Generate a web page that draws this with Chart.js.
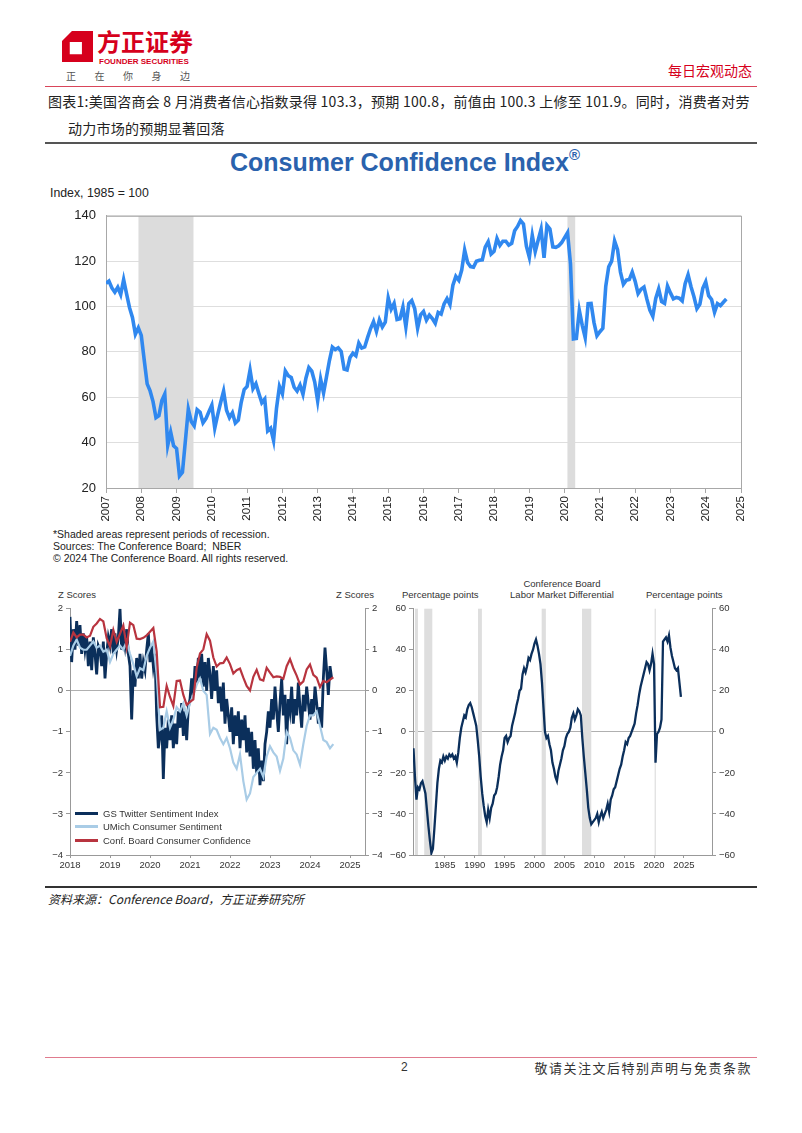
<!DOCTYPE html>
<html>
<head>
<meta charset="utf-8">
<script src="https://cdn.jsdelivr.net/npm/chart.js@4.4.1/dist/chart.umd.min.js"></script>
<style>
body{margin:0;width:802px;height:1133px;position:relative;background:#fff;overflow:hidden;font-family:"Liberation Sans",Arial,sans-serif;color:#222}
.a{position:absolute;white-space:nowrap}
.cjk{font-family:"Noto Sans CJK SC",sans-serif}
canvas{position:absolute}
.gs{font-size:9.5px;color:#333;line-height:11px}
.lg{position:absolute;left:75px;font-size:9.5px;color:#333;line-height:12px}
.lg span{display:inline-block;width:23px;height:3px;vertical-align:middle;margin-right:5px;margin-top:-2px}
</style>
</head>
<body>

<!-- header -->
<svg class="a" style="left:62px;top:31px" width="31" height="31" viewBox="0 0 28 28">
<path fill-rule="evenodd" fill="#d6001c" d="M9 0H28V28H0V9Z M7 10V21H18V10Z"/>
</svg>
<div class="a cjk" style="left:97px;top:25px;font-size:24px;line-height:32px;font-weight:bold;color:#d6001c">方正证券</div>
<div class="a" style="left:99px;top:57px;font-size:8px;line-height:9px;font-weight:bold;color:#d6001c">FOUNDER SECURITIES</div>
<div class="a cjk" style="left:66px;top:68px;font-size:10px;color:#555;letter-spacing:18.5px">正在你身边</div>
<div class="a cjk" style="right:50px;top:60px;font-size:14px;color:#d6001c">每日宏观动态</div>
<div class="a" style="left:45px;top:86px;width:712px;height:1px;background:#d9455a"></div>

<div class="a cjk" style="left:48px;top:91px;font-size:14px;letter-spacing:0.25px;line-height:20px;color:#222">图表1:美国咨商会 8 月消费者信心指数录得 103.3，预期 100.8，前值由 100.3 上修至 101.9。同时，消费者对劳</div>
<div class="a cjk" style="left:68px;top:118px;font-size:14px;letter-spacing:0.25px;line-height:20px;color:#222">动力市场的预期显著回落</div>
<div class="a" style="left:45px;top:142px;width:712px;height:2px;background:#555"></div>

<!-- top chart -->
<div class="a" style="left:4px;width:802px;top:146px;text-align:center;font-size:25px;font-weight:bold;color:#2a62ad">Consumer Confidence Index<sup style="font-size:15px;vertical-align:11px">®</sup></div>
<div class="a" style="left:50px;top:186px;font-size:12.3px">Index, 1985 = 100</div>
<canvas id="cciChart" width="720" height="330" style="left:40px;top:198px"></canvas>
<div class="a" style="left:53px;top:528px;font-size:10.5px;line-height:12px">*Shaded areas represent periods of recession.<br>Sources: The Conference Board;&nbsp; NBER<br>© 2024 The Conference Board. All rights reserved.</div>

<!-- bottom left -->
<div class="a gs" style="left:58px;top:589px">Z Scores</div>
<div class="a gs" style="left:336px;top:589px">Z Scores</div>
<canvas id="zChart" width="342" height="275" style="left:40px;top:600px"></canvas>
<div class="lg" style="top:808px"><span style="background:#0b2f5b"></span>GS Twitter Sentiment Index</div>
<div class="lg" style="top:821px"><span style="background:#a9cce6"></span>UMich Consumer Sentiment</div>
<div class="lg" style="top:835px"><span style="background:#b8343f"></span>Conf. Board Consumer Confidence</div>

<!-- bottom right -->
<div class="a gs" style="left:402px;top:589px">Percentage points</div>
<div class="a gs" style="left:500px;width:124px;top:578px;text-align:center">Conference Board<br>Labor Market Differential</div>
<div class="a gs" style="left:646px;top:589px">Percentage points</div>
<canvas id="ldChart" width="368" height="275" style="left:382px;top:600px"></canvas>

<!-- source + footer -->
<div class="a" style="left:45px;top:886px;width:712px;height:1.5px;background:#333"></div>
<div class="a cjk" style="left:48px;top:890px;font-size:12px;font-style:italic;color:#222">资料来源：Conference Board，方正证券研究所</div>
<div class="a" style="left:45px;top:1057px;width:712px;height:1px;background:#e07b8e"></div>
<div class="a" style="left:401px;top:1060px;font-size:12px;color:#333">2</div>
<div class="a cjk" style="right:50px;top:1058px;font-size:13px;color:#333;letter-spacing:1.5px">敬请关注文后特别声明与免责条款</div>

<script>
// ========================================
// Data
// ========================================

// Consumer Confidence Index, monthly from Jan 2007
const cciStart = 2007;
const cciValues = [
110.2,111.2,108.2,106.3,108.5,105.3,111.9,105.6,99.5,95.2,87.8,90.6,
87.3,76.4,65.9,62.8,58.1,51.0,51.9,58.5,61.4,38.8,44.7,38.6,
37.4,25.3,26.9,40.8,54.8,49.3,47.4,54.5,53.4,48.7,50.6,53.6,
56.5,46.4,52.3,57.7,62.7,54.3,51.0,53.2,48.6,49.9,57.8,63.4,
64.8,72.0,63.8,66.0,61.7,57.6,59.2,45.2,46.4,40.9,55.2,64.8,
61.5,71.6,69.5,68.7,64.4,62.7,65.4,61.3,68.4,73.1,71.5,66.7,
58.4,68.0,61.9,69.0,76.2,82.1,81.0,81.8,80.2,72.4,72.0,77.5,
79.4,78.3,83.9,81.7,82.2,86.4,90.3,93.4,89.0,94.1,91.0,93.1,
103.8,98.8,101.4,94.3,94.6,99.8,91.0,101.3,102.6,99.1,90.4,96.3,
97.8,94.0,96.2,94.7,92.6,97.4,96.7,101.1,103.5,100.8,109.4,113.3,
111.6,116.1,124.9,119.4,117.6,117.3,120.0,120.4,120.6,126.2,128.6,123.1,
124.3,130.0,127.0,128.8,128.8,127.1,127.9,133.4,135.3,137.9,136.4,126.6,
121.7,131.4,124.2,129.2,134.1,121.5,135.8,134.2,126.3,126.1,126.8,128.2,
130.4,132.6,118.8,85.7,85.9,98.3,91.7,86.3,101.3,101.4,92.9,87.1,
88.9,90.4,109.0,117.5,120.0,128.9,125.1,115.2,109.8,111.6,111.9,115.2,
111.1,105.7,107.6,108.6,103.2,98.4,95.7,103.6,107.8,102.2,101.4,109.0,
106.0,103.4,104.0,103.7,102.5,110.1,114.0,108.7,104.3,99.1,101.0,108.0,
110.9,104.8,103.1,97.5,101.3,100.4,101.9,103.3
];
const cciRecessions = [[2007.92, 2009.48], [2020.08, 2020.3]];

// Z scores, Jan 2018 onward
const zStart = 2018;
// GS Twitter Sentiment Index, twice a month
const gsTwitter = [
1.8,0.7,1.5,1.0,1.7,1.1, 1.6,0.9,1.4,1.0,1.3,0.6,
1.2,0.5,1.3,0.9,0.4,1.1, 1.0,0.6,1.2,0.3,0.9,1.3,
1.1,1.5,0.9,1.4,1.0,1.3, 2.0,1.0,1.4,1.1,1.5,0.9,
0.6,-0.7,0.5,0.1,0.8,0.3, 0.9,0.3,0.7,0.5,1.0,1.4,
0.7,1.1,0.6,0.9,-0.6,-1.4, -1.1,-0.6,-2.15,-0.9,-1.4,-0.7,
-1.2,-0.6,-1.4,-0.8,-1.3,-0.5, -0.9,-0.3,-1.1,-0.5,-1.2,-0.4,
-0.2,0.3,-0.1,0.6,0.2,0.8, 0.3,0.9,0.1,0.7,0.0,0.8,
0.4,-0.2,0.6,0.0,0.5,-0.3, 0.1,-0.5,0.2,-0.8,-0.2,-0.6,
-1.0,-0.4,-1.3,-0.6,-1.1,-0.5, -1.4,-0.7,-1.2,-0.6,-1.5,-0.9,
-1.6,-1.0,-1.9,-1.2,-2.0,-1.4, -2.3,-1.7,-2.2,-1.3,-1.0,-0.5,
-0.9,-0.2,-0.7,0.1,-0.5,-1.0, -0.3,0.3,-0.6,-0.1,-1.3,-0.2,
-0.5,0.1,-0.8,-0.2,-0.6,0.2, -0.4,-0.9,-0.1,-0.5,0.1,-0.3,
-0.7,-0.2,-0.6,0.1,-0.3,-0.8, -0.4,-0.9,0.3,1.05,0.5,-0.1,0.6,0.3
];
// UMich Consumer Sentiment, monthly
const umich = [
0.85,1.1,1.25,1.05,1.0,1.0,1.1,1.2,1.05,1.1,0.95,1.0,
0.7,0.9,1.0,1.1,1.0,1.2,0.9,0.65,0.35,0.55,0.5,0.85,
1.05,1.2,0.4,-0.95,-0.9,-0.5,-0.9,-0.7,-0.4,-0.5,-0.3,-0.6,
-0.3,-0.1,0.15,0.3,0.0,-0.1,-1.05,-0.9,-0.95,-1.15,-1.3,-1.15,
-1.4,-1.75,-1.9,-1.55,-2.2,-2.65,-2.5,-2.1,-2.0,-1.9,-2.1,-1.6,
-1.35,-1.5,-1.6,-1.95,-1.65,-1.0,-1.15,-1.45,-1.55,-1.8,-1.3,-0.85,
-0.6,-0.6,-0.5,-0.85,-1.2,-1.25,-1.4,-1.3
];
// Conference Board Consumer Confidence, monthly
const confBoard = [
1.19,1.42,1.30,1.37,1.37,1.30,1.34,1.56,1.64,1.75,1.69,1.28,
1.08,1.48,1.19,1.39,1.59,1.07,1.66,1.60,1.27,1.26,1.29,1.35,
1.44,1.53,0.96,-0.40,-0.39,0.12,-0.15,-0.37,0.24,0.25,-0.10,-0.34,
-0.27,-0.21,0.56,0.91,1.01,1.38,1.22,0.81,0.59,0.67,0.68,0.81,
0.65,0.42,0.50,0.54,0.32,0.12,0.01,0.34,0.51,0.28,0.25,0.56,
0.44,0.33,0.35,0.34,0.29,0.60,0.77,0.55,0.37,0.15,0.23,0.52,
0.64,0.39,0.32,0.09,0.24,0.21,0.27,0.33
];

// Labor market differential, quarterly from Q4 1979
const ldStart = 1979.75;
const laborDiff = [
-8,
-22,-33,-27,-28, -25,-24,-27,-30, -38,-46,-53,-59, -57,-47,-36,-25,
-18,-14,-15,-12, -14,-12,-13,-11, -12,-11,-13,-12, -15,-10,-3,2,
5,8,7,11, 13,14,12,9, 6,3,-4,-12, -22,-30,-36,-41,
-44,-38,-42,-37, -35,-31,-30,-27, -22,-16,-12,-9, -3,-2,-5,-3,
-2,3,6,9, 13,16,20,21, 28,31,29,32, 36,35,38,40,
43,45,42,38, 33,24,12,0, -3,-2,-6,-9, -15,-18,-22,-24,
-19,-16,-13,-9, -7,-3,-1,0, 2,7,9,6, 8,11,10,8,
-3,-12,-20,-28, -37,-42,-45,-44, -43,-42,-40,-44, -41,-39,-42,-40,
-38,-35,-39,-33, -31,-28,-27,-24, -21,-18,-16,-12, -9,-5,-6,-3,
-2,0,2,4, 9,13,18,22, 25,28,31,34, 33,30,33,38,
33,-15,-1,0, 2,6,44,45, 46,44,47,41, 37,34,31,30,
31,24,17
];
const ldRecessions = [[1980.0,1980.5],[1981.55,1982.9],[1990.55,1991.2],[2001.2,2001.9],[2007.95,2009.5],[2020.1,2020.3]];

// ========================================
// Helpers
// ========================================

Chart.defaults.font.family = "'Liberation Sans', Arial, sans-serif";
Chart.defaults.animation = false;

const shadePlugin = {
  id: "shade",
  beforeDatasetsDraw(chart, args, opts) {
    const {ctx, chartArea, scales} = chart;
    ctx.save();
    ctx.fillStyle = opts.color;
    (opts.periods || []).forEach(([a, b]) => {
      const x1 = scales.x.getPixelForValue(a);
      const x2 = scales.x.getPixelForValue(b);
      ctx.fillRect(x1, chartArea.top, x2 - x1, chartArea.bottom - chartArea.top);
    });
    if (opts.box) {
      ctx.strokeStyle = opts.box;
      ctx.lineWidth = 1;
      ctx.strokeRect(chartArea.left + 0.5, chartArea.top + 0.5, chartArea.right - chartArea.left, chartArea.bottom - chartArea.top);
    }
    ctx.restore();
  }
};

const series = (start, step, vals) => vals.map((v, i) => ({x: start + i * step, y: v}));
const minus = v => String(v).replace("-", "\u2212");

// ========================================
// Consumer Confidence Index
// ========================================

new Chart(document.getElementById("cciChart"), {
  type: "line",
  data: {
    datasets: [{
      data: series(cciStart, 1 / 12, cciValues),
      borderColor: "#3088ef",
      borderWidth: 3.6,
      pointRadius: 0,
      tension: 0
    }]
  },
  options: {
    responsive: false,
    layout: {padding: {top: 14, right: 19, left: 0, bottom: 0}},
    plugins: {
      legend: {display: false},
      tooltip: {enabled: false},
      shade: {periods: cciRecessions, color: "#dcdcdc", box: "#a8a8a8"}
    },
    scales: {
      x: {
        type: "linear", min: 2007, max: 2025,
        ticks: {stepSize: 1, autoSkip: false, minRotation: 90, maxRotation: 90, padding: 3,
          color: "#222", font: {size: 11.5}, callback: v => String(v)},
        grid: {drawOnChartArea: false, tickLength: 5, color: "#a8a8a8"},
        border: {color: "#a8a8a8"},
        afterFit(s) { s.height = 40; }
      },
      y: {
        min: 20, max: 140,
        ticks: {stepSize: 20, padding: 10, color: "#222", font: {size: 13}},
        grid: {color: "#dedede", drawTicks: false},
        border: {color: "#a8a8a8"},
        afterFit(s) { s.width = 66; }
      }
    }
  },
  plugins: [shadePlugin]
});

// ========================================
// Z Scores
// ========================================

const zAxis = (pos, w) => ({
  position: pos, min: -4, max: 2,
  ticks: {stepSize: 1, padding: 3, color: "#333", font: {size: 9.5}, callback: minus},
  grid: {drawOnChartArea: pos === "left", tickLength: 4, tickColor: "#999",
    color: c => c.tick && c.tick.value === 0 ? "#b0b0b0" : "rgba(0,0,0,0)"},
  border: {color: "#999"},
  afterFit(s) { s.width = w; }
});

new Chart(document.getElementById("zChart"), {
  type: "line",
  data: {
    datasets: [
      {label: "Conf. Board Consumer Confidence", data: series(zStart, 1 / 12, confBoard),
        borderColor: "#b8343f", borderWidth: 2.2, pointRadius: 0, yAxisID: "y"},
      {label: "UMich Consumer Sentiment", data: series(zStart, 1 / 12, umich),
        borderColor: "#a9cce6", borderWidth: 2.2, pointRadius: 0, yAxisID: "y"},
      {label: "GS Twitter Sentiment Index", data: series(zStart, 1 / 24, gsTwitter),
        borderColor: "#0b2f5b", borderWidth: 2.8, pointRadius: 0, yAxisID: "y"}
    ]
  },
  options: {
    responsive: false,
    layout: {padding: {top: 7, right: 0, left: 0, bottom: 0}},
    plugins: {legend: {display: false}, tooltip: {enabled: false}},
    scales: {
      x: {
        type: "linear", min: 2018, max: 2025.375,
        ticks: {stepSize: 1, includeBounds: false, autoSkip: false, maxRotation: 0, padding: 2,
          color: "#333", font: {size: 9.5}, callback: v => String(v)},
        grid: {drawOnChartArea: false, tickLength: 3, color: "#999"},
        border: {color: "#999"},
        afterFit(s) { s.height = 20; }
      },
      y: zAxis("left", 30),
      y2: zAxis("right", 17)
    }
  }
});

// ========================================
// Labor Market Differential
// ========================================

const ppAxis = (pos, w) => ({
  position: pos, min: -60, max: 60,
  ticks: {stepSize: 20, padding: 3, color: "#333", font: {size: 9.5}, callback: minus},
  grid: {drawOnChartArea: pos === "left", tickLength: 4, tickColor: "#999",
    color: c => c.tick && c.tick.value === 0 ? "#b0b0b0" : "rgba(0,0,0,0)"},
  border: {color: "#999"},
  afterFit(s) { s.width = w; }
});

new Chart(document.getElementById("ldChart"), {
  type: "line",
  data: {
    datasets: [{
      data: series(ldStart, 0.25, laborDiff),
      borderColor: "#0b2f5b", borderWidth: 2.3, pointRadius: 0, yAxisID: "y"
    }]
  },
  options: {
    responsive: false,
    layout: {padding: {top: 7, right: 0, left: 0, bottom: 0}},
    plugins: {
      legend: {display: false},
      tooltip: {enabled: false},
      shade: {periods: ldRecessions, color: "#dedede"}
    },
    scales: {
      x: {
        type: "linear", min: 1979.67, max: 2029.7,
        ticks: {stepSize: 5, includeBounds: false, autoSkip: false, maxRotation: 0, padding: 2,
          color: "#333", font: {size: 9.5}, callback: v => v < 1985 ? null : String(v)},
        grid: {drawOnChartArea: false, tickLength: 3, color: "#999"},
        border: {color: "#999"},
        afterFit(s) { s.height = 20; }
      },
      y: ppAxis("left", 31),
      y2: ppAxis("right", 38)
    }
  },
  plugins: [shadePlugin]
});
</script>
</body>
</html>
